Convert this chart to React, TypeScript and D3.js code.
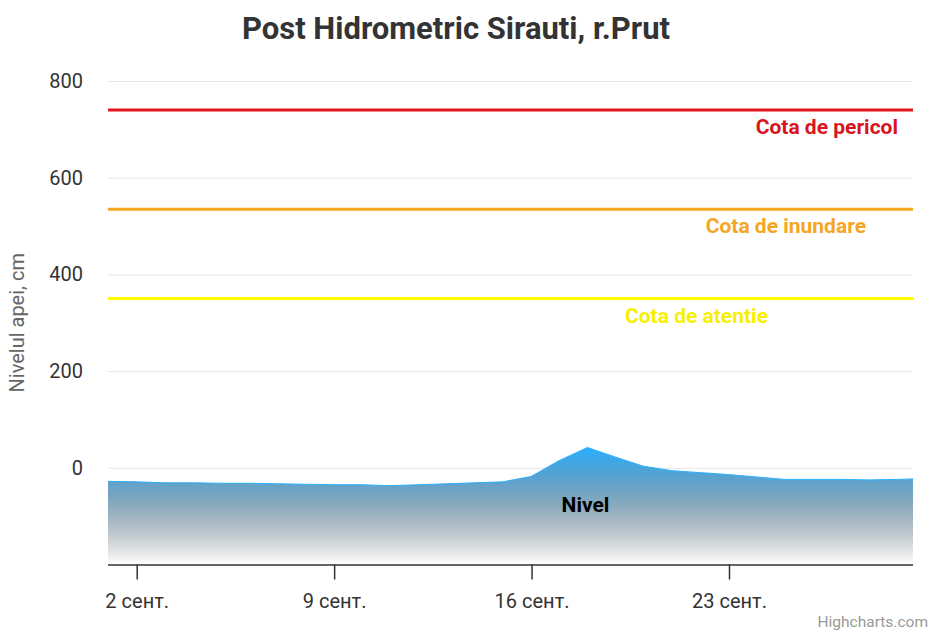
import React, { useEffect, useRef } from 'react';
import * as d3 from 'd3';

// daily water level, September (cm)
const days = [1, 2, 3, 4, 5, 6, 7, 8, 9, 10, 11, 12, 13, 14, 15, 16, 17, 18, 19, 20, 21, 22, 23, 24, 25, 26, 27, 28, 29, 30];
const levels = [-28, -29, -31, -31, -32, -32, -33, -34, -35, -35, -37, -35, -33, -31, -29, -18, 15, 42, 22, 3, -6, -10, -14, -19, -24, -24, -24, -25, -24, -22];

const tickDays = [2, 9, 16, 23];
const tickLabels = ['2 сент.', '9 сент.', '16 сент.', '23 сент.'];
const yTicks = [0, 200, 400, 600, 800];

const plotLineValues = [740, 535, 350];
const plotLineNames = ['Cota de pericol', 'Cota de inundare', 'Cota de atentie'];
const plotLineColors = ['#e3141c', '#f5a623', '#ffff00'];
const plotLabelColors = ['#d8141c', '#f5a623', '#f7f000'];
const plotLabelShift = [15, 47, 145];

const W = 929;
const H = 631;
const FONT = 'Roboto, "Noto Sans", sans-serif';
const day = (d: number) => new Date(Date.UTC(2024, 8, d));

const App = () => {
  const ref = useRef<SVGSVGElement>(null);

  useEffect(() => {
    const svg = d3.select(ref.current);
    svg.selectAll('*').remove();

    const left = 108, right = 913, top = 81, bottom = 564.5;

    const x = d3.scaleUtc()
      .domain([day(1), new Date(Date.UTC(2024, 8, 29, 13))])
      .range([left, right]);
    const y = d3.scaleLinear().domain([-200, 800]).range([bottom, top]);

    const data = days.map((d, i) => ({ date: day(d), v: levels[i] }));

    // title
    svg.append('text')
      .attr('x', 456).attr('y', 39)
      .attr('text-anchor', 'middle')
      .attr('font-family', FONT).attr('font-weight', 700).attr('font-size', 31)
      .attr('fill', '#333333')
      .text('Post Hidrometric Sirauti, r.Prut');

    // grid
    svg.append('g').selectAll('line')
      .data(yTicks)
      .enter().append('line')
      .attr('x1', left).attr('x2', right)
      .attr('y1', d => y(d) + 0.5).attr('y2', d => y(d) + 0.5)
      .attr('stroke', '#e6e6e6').attr('stroke-width', 1);

    svg.append('g').selectAll('text')
      .data(yTicks)
      .enter().append('text')
      .attr('x', 83).attr('y', d => y(d) + 7)
      .attr('text-anchor', 'end')
      .attr('font-family', FONT).attr('font-size', 20)
      .attr('fill', '#333333')
      .text(d => d);

    svg.append('text')
      .attr('transform', `translate(24,${(top + bottom) / 2}) rotate(-90)`)
      .attr('text-anchor', 'middle')
      .attr('font-family', FONT).attr('font-size', 20)
      .attr('fill', '#666666')
      .text('Nivelul apei, cm');

    // area gradient: series colour fading out over white
    const base = [44, 175, 254];
    const defs = svg.append('defs');
    const grad = defs.append('linearGradient')
      .attr('id', 'nivelFill')
      .attr('gradientUnits', 'userSpaceOnUse')
      .attr('x1', 0).attr('x2', 0)
      .attr('y1', y(d3.max(levels) as number)).attr('y2', bottom);
    d3.range(0, 1.0001, 0.1).forEach(t => {
      const c = base.map(b => Math.round((1 - t) * (1 - t) * b + t * 255));
      grad.append('stop').attr('offset', t).attr('stop-color', `rgb(${c.join(',')})`);
    });
    defs.append('clipPath').attr('id', 'plotClip')
      .append('rect').attr('x', left).attr('y', top - 10).attr('width', right - left).attr('height', bottom - top + 10);

    const area = d3.area<{ date: Date; v: number }>()
      .x(d => x(d.date)).y0(bottom).y1(d => y(d.v));
    const line = d3.line<{ date: Date; v: number }>()
      .x(d => x(d.date)).y(d => y(d.v));

    const g = svg.append('g').attr('clip-path', 'url(#plotClip)');
    g.append('path').datum(data).attr('d', area).attr('fill', 'url(#nivelFill)');
    g.append('path').datum(data).attr('d', line)
      .attr('fill', 'none').attr('stroke', '#2caffe').attr('stroke-width', 1);

    // threshold lines
    plotLineValues.forEach((v, i) => {
      svg.append('line')
        .attr('x1', left).attr('x2', right)
        .attr('y1', y(v)).attr('y2', y(v))
        .attr('stroke', plotLineColors[i]).attr('stroke-width', 3);
      svg.append('text')
        .attr('x', right - plotLabelShift[i]).attr('y', y(v) + 24)
        .attr('text-anchor', 'end')
        .attr('font-family', FONT).attr('font-weight', 700).attr('font-size', 21)
        .attr('fill', plotLabelColors[i])
        .text(plotLineNames[i]);
    });

    // series label
    svg.append('text')
      .attr('x', x(day(18)) - 2).attr('y', y(-92))
      .attr('text-anchor', 'middle')
      .attr('font-family', FONT).attr('font-weight', 700).attr('font-size', 21)
      .attr('fill', '#000000')
      .text('Nivel');

    // x axis
    svg.append('line')
      .attr('x1', left).attr('x2', right)
      .attr('y1', bottom + 0.5).attr('y2', bottom + 0.5)
      .attr('stroke', '#333333').attr('stroke-width', 1.5);
    const xt = svg.append('g').selectAll('g')
      .data(tickDays)
      .enter().append('g')
      .attr('transform', d => `translate(${x(day(d)) + 1},0)`);
    xt.append('line')
      .attr('y1', bottom).attr('y2', bottom + 15)
      .attr('stroke', '#333333').attr('stroke-width', 1.5);
    xt.append('text')
      .attr('y', 608)
      .attr('text-anchor', 'middle')
      .attr('font-family', FONT).attr('font-size', 20)
      .attr('fill', '#333333')
      .text((d, i) => tickLabels[i]);

    svg.append('text')
      .attr('x', 928).attr('y', 627)
      .attr('text-anchor', 'end')
      .attr('font-family', FONT).attr('font-size', 15.5)
      .attr('fill', '#999999')
      .text('Highcharts.com');
  }, []);

  return (
    <svg ref={ref} width={W} height={H}
      style={{ position: 'absolute', left: 0, top: 0, background: '#ffffff' }} />
  );
};

export default App;
